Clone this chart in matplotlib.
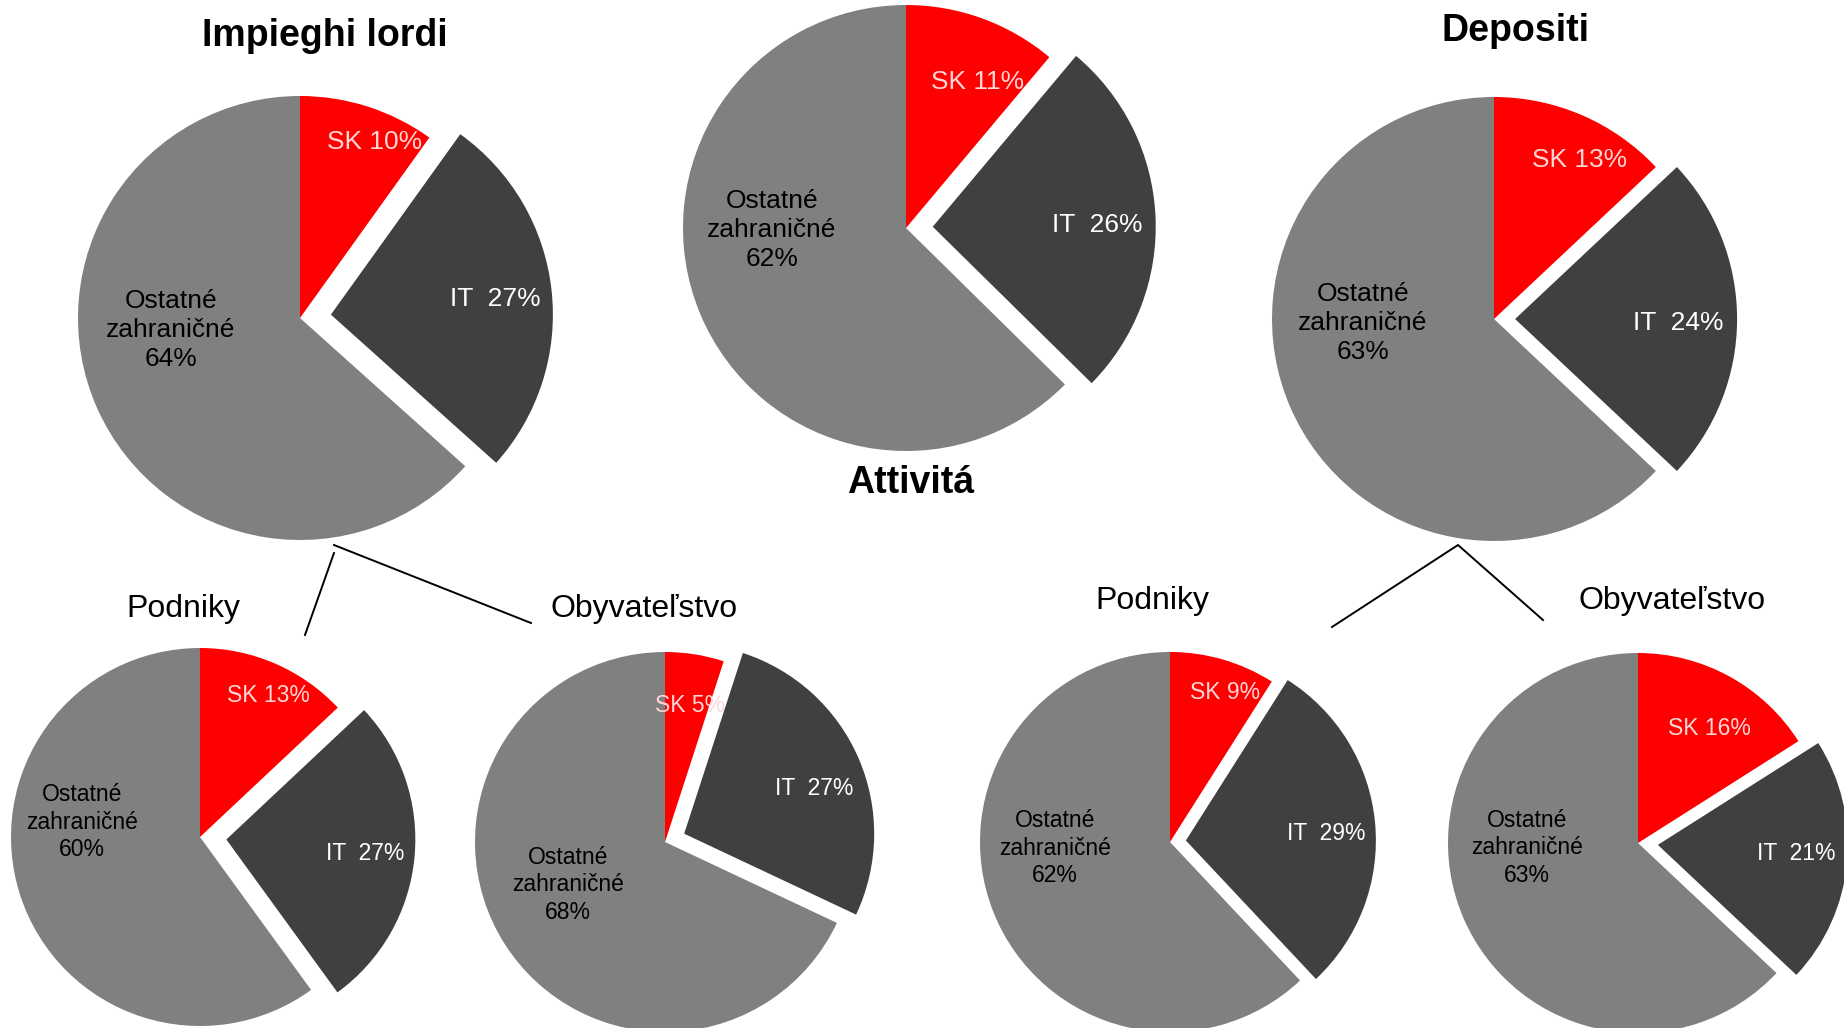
"""
Podiel SK / IT / ostatné zahraničné — aktíva, úvery, vklady
"""

import matplotlib
matplotlib.use("Agg")
import matplotlib.pyplot as plt

# DATA
# ──────────────────────────────────────────────────────────────
kategorie = ["SK", "IT", "Ostatné zahraničné"]

attivita = [11, 26, 62]
impieghi = [10, 27, 64]
depositi = [13, 24, 63]
impieghi_podniky = [13, 27, 60]
impieghi_obyv = [5, 27, 68]
depositi_podniky = [9, 29, 62]
depositi_obyv = [16, 21, 63]

tituly_hore = ["Impieghi lordi", "Attivitá", "Depositi"]
tituly_dole = ["Podniky", "Obyvateľstvo", "Podniky", "Obyvateľstvo"]

# ŠTÝL
# ──────────────────────────────────────────────────────────────
W, H = 1844, 1028
FARBY = ["#FF0000", "#404040", "#808080"]
FARBY_TEXT = ["#FFD6D6", "white", "black"]

plt.rcParams["font.family"] = ["Liberation Sans", "DejaVu Sans"]

fig = plt.figure(figsize=(W / 100, H / 100), dpi=100)

# pozadie v pixelových súradniciach (čiary + tituly)
bg = fig.add_axes([0, 0, 1, 1])
bg.set_xlim(0, W)
bg.set_ylim(H, 0)
bg.axis("off")


def kolac(cx, cy, r, hodnoty, explode, poz_labelov, fs):
    half = 1.3 * r
    ax = fig.add_axes([(cx - half) / W, 1 - (cy + half) / H, 2 * half / W, 2 * half / H])
    wedges, _ = ax.pie(hodnoty, colors=FARBY, startangle=90, counterclock=False,
                       explode=[0, explode, 0], radius=1,
                       wedgeprops=dict(linewidth=0))
    ax.set_xlim(-1.3, 1.3)
    ax.set_ylim(-1.3, 1.3)
    ax.axis("off")
    wedges[0].set_zorder(1)
    wedges[1].set_zorder(2)
    wedges[2].set_zorder(1)

    texty = [f"SK {hodnoty[0]}%", f"IT  {hodnoty[1]}%",
             f"Ostatné\nzahraničné\n{hodnoty[2]}%"]
    zorders = [1.5, 3, 3]
    for t, (x, y), c, z in zip(texty, poz_labelov, FARBY_TEXT, zorders):
        ax.text(x, y, t, ha="center", va="center", fontsize=fs, color=c,
                linespacing=1.25, zorder=z)
    return ax


# ── horný rad ────────────────────────────────────────────────
kolac(300, 318, 222, impieghi, 0.14,
      [(0.338, 0.793), (0.878, 0.086), (-0.581, -0.054)], 19)
kolac(906, 228, 223, attivita, 0.12,
      [(0.321, 0.655), (0.857, 0.013), (-0.601, -0.009)], 19)
kolac(1494, 319, 222, depositi, 0.095,
      [(0.387, 0.716), (0.829, -0.018), (-0.59, -0.018)], 19)

# ── dolný rad ────────────────────────────────────────────────
kolac(200, 837, 189, impieghi_podniky, 0.14,
      [(0.36, 0.751), (0.873, -0.085), (-0.624, 0.079)], 16.5)
kolac(665, 842, 190, impieghi_obyv, 0.11,
      [(0.13, 0.721), (0.784, 0.284), (-0.51, -0.226)], 16.5)
kolac(1170, 842, 190, depositi_podniky, 0.084,
      [(0.289, 0.789), (0.821, 0.047), (-0.605, -0.032)], 16.5)
kolac(1638, 843, 190, depositi_obyv, 0.105,
      [(0.374, 0.605), (0.832, -0.053), (-0.584, -0.026)], 16.5)

# ── tituly ───────────────────────────────────────────────────
for t, (x, y) in zip(tituly_hore, [(325, 46), (911, 493), (1515, 41)]):
    bg.text(x, y, t, ha="center", va="baseline", fontsize=27, fontweight="bold")

for t, (x, y) in zip(tituly_dole, [(183, 617), (644, 617), (1152, 609), (1672, 609)]):
    bg.text(x, y, t, ha="center", va="baseline", fontsize=23)

# ── spojovacie čiary ─────────────────────────────────────────
bg.plot([334, 305], [553, 635], color="black", lw=1.4)
bg.plot([334, 531], [545, 623], color="black", lw=1.4)
bg.plot([1332, 1458, 1543], [627, 545, 620], color="black", lw=1.4)

plt.savefig("out.png", dpi=100)
plt.close()
